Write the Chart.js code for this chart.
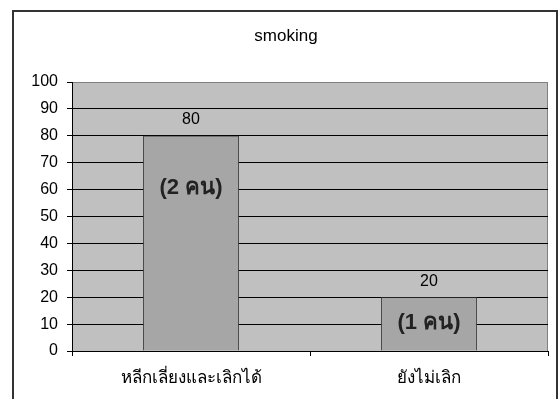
<!DOCTYPE html>
<html>
<head>
<meta charset="utf-8">
<script src="https://cdn.jsdelivr.net/npm/chart.js@4/dist/chart.umd.min.js"></script>
<style>
  html, body { margin: 0; padding: 0; background: #fff; }
  #grafico { display: block; }
</style>
</head>
<body>
<canvas id="grafico" width="559" height="399"></canvas>
<script>
// Dados do gráfico
const titulo = 'smoking';
const categorias = ['หลีกเลี่ยงและเลิกได้', 'ยังไม่เลิก'];
const valores = [80, 20];
const rotulosPessoas = ['(2 คน)', '(1 คน)'];
const ticksY = [0, 10, 20, 30, 40, 50, 60, 70, 80, 90, 100];

const FONTE = "'Liberation Sans', Arial, 'DejaVu Sans', sans-serif";

// Moldura externa, título e fundo cinza da área do gráfico
const fundoPlugin = {
    id: 'fundo',
    beforeDraw(chart) {
        const { ctx, chartArea: a } = chart;
        ctx.save();
        ctx.fillStyle = '#fff';
        ctx.fillRect(0, 0, chart.width, chart.height);

        ctx.strokeStyle = '#333';
        ctx.lineWidth = 2;
        ctx.strokeRect(13, 11, 544, 420);

        ctx.fillStyle = '#000';
        ctx.font = '17px ' + FONTE;
        ctx.textAlign = 'center';
        ctx.textBaseline = 'middle';
        ctx.fillText(titulo, 286, 36);

        ctx.fillStyle = '#C0C0C0';
        ctx.fillRect(a.left, a.top, a.right - a.left, a.bottom - a.top);
        ctx.strokeStyle = '#808080';
        ctx.lineWidth = 1;
        ctx.strokeRect(a.left + 0.5, a.top + 0.5, a.right - a.left - 1, a.bottom - a.top);
        ctx.restore();
    }
};

// Valores acima das barras e número de pessoas dentro delas
const rotulosPlugin = {
    id: 'rotulos',
    afterDatasetsDraw(chart, args, opts) {
        const { ctx } = chart;
        const yScale = chart.scales.y;
        const barras = chart.getDatasetMeta(0).data;
        ctx.save();
        ctx.textAlign = 'center';
        ctx.textBaseline = 'middle';
        barras.forEach((barra, i) => {
            ctx.fillStyle = '#000';
            ctx.font = '16px ' + FONTE;
            ctx.fillText(String(valores[i]), barra.x, barra.y - 16);

            ctx.fillStyle = '#222';
            ctx.font = 'bold 22px ' + FONTE;
            ctx.fillText(rotulosPessoas[i], barra.x, yScale.getPixelForValue(opts.ancoras[i]));
        });
        ctx.restore();
    }
};

new Chart(document.getElementById('grafico'), {
    type: 'bar',
    data: {
        labels: categorias,
        datasets: [{
            data: valores,
            backgroundColor: '#A6A6A6',
            borderColor: '#404040',
            borderWidth: 1,
            categoryPercentage: 1,
            barPercentage: 0.403
        }]
    },
    options: {
        responsive: false,
        animation: false,
        layout: { padding: { top: 82, right: 11, left: 0, bottom: 0 } },
        plugins: {
            legend: { display: false },
            title: { display: false },
            tooltip: { enabled: false },
            rotulos: { ancoras: [60.5, 10.3] }
        },
        scales: {
            y: {
                min: 0,
                max: 100,
                afterFit: (scale) => { scale.width = 72; },
                afterBuildTicks: (scale) => { scale.ticks = ticksY.map(v => ({ value: v })); },
                ticks: {
                    color: '#000',
                    padding: 9,
                    font: { family: FONTE, size: 16 }
                },
                grid: {
                    color: (c) => (c.tick && c.tick.value === 100 ? '#808080' : '#000'),
                    tickColor: '#000',
                    tickLength: 5,
                    lineWidth: 1
                },
                border: { color: '#000', width: 1 }
            },
            x: {
                afterFit: (scale) => { scale.height = 48; },
                ticks: {
                    color: '#000',
                    padding: 12,
                    font: { family: FONTE, size: 17 }
                },
                grid: {
                    offset: true,
                    drawOnChartArea: false,
                    color: '#000',
                    tickLength: 5
                },
                border: { color: '#000', width: 1 }
            }
        }
    },
    plugins: [fundoPlugin, rotulosPlugin]
});
</script>
</body>
</html>
